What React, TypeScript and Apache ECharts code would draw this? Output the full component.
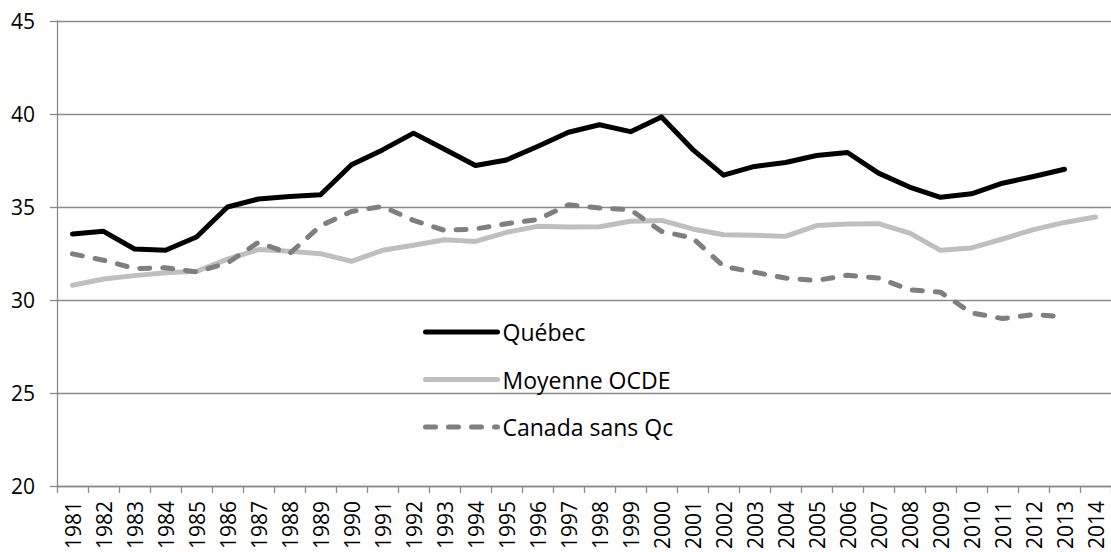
import React, { useEffect, useRef } from "react";
import * as echarts from "echarts";

const years: string[] = [
  "1981", "1982", "1983", "1984", "1985", "1986", "1987", "1988", "1989", "1990",
  "1991", "1992", "1993", "1994", "1995", "1996", "1997", "1998", "1999", "2000",
  "2001", "2002", "2003", "2004", "2005", "2006", "2007", "2008", "2009", "2010",
  "2011", "2012", "2013", "2014",
];

const quebec: (number | null)[] = [
  33.55, 33.69, 32.74, 32.67, 33.39, 35.0, 35.43, 35.57, 35.66, 37.27,
  38.07, 38.97, 38.1, 37.23, 37.53, 38.25, 39.02, 39.42, 39.05, 39.84,
  38.1, 36.71, 37.18, 37.39, 37.77, 37.93, 36.82, 36.07, 35.52, 35.71,
  36.28, 36.64, 37.03, null,
];

const ocde: number[] = [
  30.79, 31.13, 31.31, 31.46, 31.54, 32.2, 32.71, 32.62, 32.49, 32.08,
  32.67, 32.94, 33.24, 33.15, 33.64, 33.96, 33.92, 33.94, 34.23, 34.28,
  33.82, 33.51, 33.48, 33.42, 34.0, 34.09, 34.1, 33.6, 32.67, 32.8,
  33.28, 33.78, 34.17, 34.46,
];

const canadaSansQc: (number | null)[] = [
  32.48, 32.14, 31.69, 31.73, 31.51, 31.99, 33.1, 32.49, 33.99, 34.76,
  35.03, 34.28, 33.74, 33.82, 34.1, 34.32, 35.12, 34.94, 34.85, 33.69,
  33.34, 31.81, 31.49, 31.18, 31.05, 31.33, 31.18, 30.55, 30.42, 29.31,
  29.0, 29.22, 29.1, null,
];

const FONT = "'Open Sans', sans-serif";

export default function App() {
  const ref = useRef<HTMLDivElement>(null);

  useEffect(() => {
    if (!ref.current) return;
    const chart = echarts.init(ref.current, undefined, { renderer: "svg" });
    const gray = "#8a8a8a";
    chart.setOption({
      animation: false,
      backgroundColor: "#ffffff",
      grid: { left: 57, right: -9.6, top: 21, bottom: 65, containLabel: false },
      legend: {
        orient: "vertical",
        left: 423,
        top: 320,
        padding: 0,
        itemWidth: 72,
        itemHeight: 24,
        itemGap: 23.5,
        lineStyle: { width: 5, cap: "round" },
        itemStyle: { opacity: 0, borderWidth: 0 },
        textStyle: { fontFamily: FONT, fontSize: 23, color: "#000", lineHeight: 24 },
        data: ["Québec", "Moyenne OCDE", "Canada sans Qc"],
      },
      xAxis: {
        type: "category",
        data: years,
        boundaryGap: true,
        axisLine: { show: true, lineStyle: { color: gray, width: 1.3 } },
        axisTick: { show: true, length: 7, lineStyle: { color: gray, width: 1.3 } },
        axisLabel: {
          rotate: 90,
          interval: 0,
          margin: 15,
          color: "#000",
          fontFamily: FONT,
          fontSize: 21,
        },
        splitLine: { show: false },
      },
      yAxis: {
        type: "value",
        min: 20,
        max: 45,
        interval: 5,
        axisLine: { show: true, lineStyle: { color: gray, width: 1.3 } },
        axisTick: { show: true, length: 7, lineStyle: { color: gray, width: 1.3 } },
        axisLabel: { margin: 22, color: "#000", fontFamily: FONT, fontSize: 21 },
        splitLine: { show: true, lineStyle: { color: gray, width: 1.3 } },
      },
      series: [
        {
          name: "Québec",
          type: "line",
          data: quebec,
          symbol: "none",
          lineStyle: { color: "#000000", width: 5, cap: "round", join: "round" },
          itemStyle: { color: "#000000" },
          z: 4,
        },
        {
          name: "Moyenne OCDE",
          type: "line",
          data: ocde,
          symbol: "none",
          lineStyle: { color: "#bfbfbf", width: 5, cap: "round", join: "round" },
          itemStyle: { color: "#bfbfbf" },
          z: 2,
        },
        {
          name: "Canada sans Qc",
          type: "line",
          data: canadaSansQc,
          symbol: "none",
          lineStyle: { color: "#7f7f7f", width: 5, type: [10, 13], cap: "round", join: "round" },
          itemStyle: { color: "#7f7f7f" },
          z: 3,
        },
      ],
    });
    return () => chart.dispose();
  }, []);

  return (
    <div
      ref={ref}
      style={{ position: "absolute", left: 0, top: 0, width: 1111, height: 552, background: "#fff" }}
    />
  );
}
